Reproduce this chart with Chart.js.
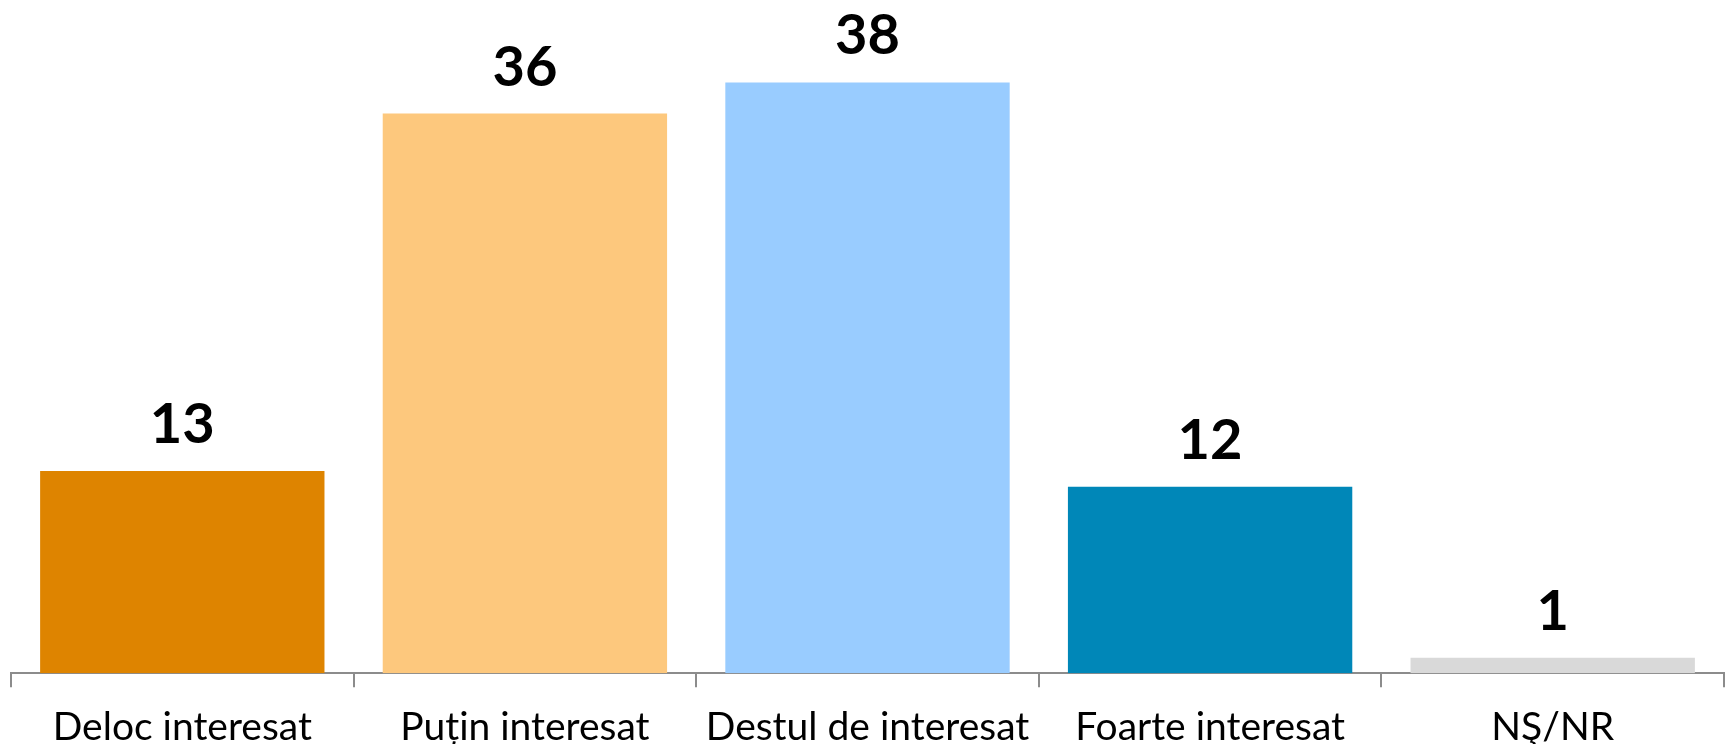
<!DOCTYPE html>
<html>
<head>
<meta charset="utf-8">
<script src="https://cdn.jsdelivr.net/npm/chart.js@4"></script>
<style>
  html, body { margin: 0; padding: 0; background: #fff; overflow: hidden; }
  .wrap { width: 1729px; height: 768px; }
</style>
</head>
<body>
<div class="wrap"><canvas id="myChart"></canvas></div>
<script>
// bar chart - interest levels

const categories = ["Deloc interesat", "Puțin interesat", "Destul de interesat", "Foarte interesat", "NŞ/NR"];
const values = [13, 36, 38, 12, 1];
const barColors = ["#de8400", "#fdc87d", "#99ccff", "#0087b8", "#d9d9d9"];

// value labels above each bar
const valueLabels = {
    id: "valueLabels",
    afterDatasetsDraw(chart) {
        const ctx = chart.ctx;
        const meta = chart.getDatasetMeta(0);
        ctx.save();
        ctx.font = "bold 56px Lato";
        ctx.fillStyle = "#000";
        ctx.textAlign = "center";
        ctx.textBaseline = "bottom";
        meta.data.forEach((bar, i) => {
            ctx.fillText(values[i], bar.x, bar.y - 18);
        });
        ctx.restore();
    }
};

new Chart(document.getElementById("myChart"), {
    type: "bar",
    data: {
        labels: categories,
        datasets: [{
            data: values,
            backgroundColor: barColors,
            barPercentage: 0.83,
            categoryPercentage: 1
        }]
    },
    options: {
        responsive: true,
        maintainAspectRatio: false,
        animation: false,
        layout: { padding: { left: 11, right: 5, top: 0, bottom: 0 } },
        plugins: {
            legend: { display: false },
            tooltip: { enabled: false }
        },
        scales: {
            x: {
                grid: { drawOnChartArea: false, tickLength: 14, color: "#8c8c8c", lineWidth: 2 },
                border: { color: "#8c8c8c", width: 2 },
                ticks: {
                    color: "#000",
                    padding: 17,
                    maxRotation: 0,
                    minRotation: 0,
                    autoSkip: false,
                    font: { family: "Lato", size: 39 }
                }
            },
            y: {
                display: false,
                min: 0,
                max: 43.3
            }
        }
    },
    plugins: [valueLabels]
});
</script>
</body>
</html>
